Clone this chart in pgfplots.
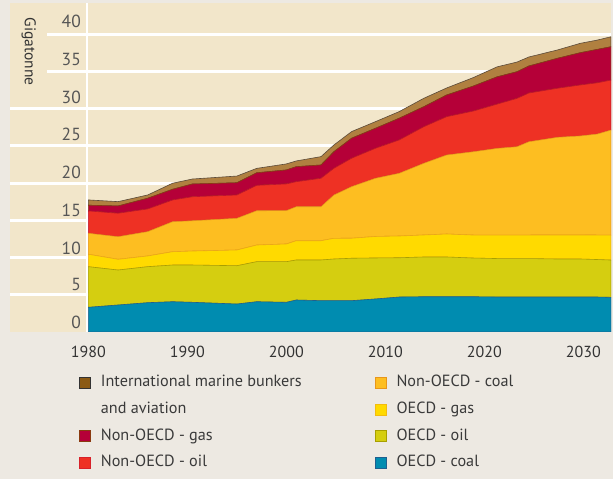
\documentclass[border=0pt]{standalone}
\usepackage{fontspec}
\setmainfont{PT Sans}
\usepackage{pgfplots}
\pgfplotsset{compat=1.18}
\usepackage{pgfplotstable}

\definecolor{outerbg}{HTML}{EDE9E2}
\definecolor{plotbg}{HTML}{F2E6CA}
\definecolor{oecdcoal}{HTML}{008CB0}
\definecolor{oecdcoalE}{HTML}{1F5F8F}
\definecolor{oecdoil}{HTML}{D5CE10}
\definecolor{oecdoilE}{HTML}{A8A000}
\definecolor{oecdgas}{HTML}{FFDA00}
\definecolor{oecdgasE}{HTML}{EBA818}
\definecolor{nocoal}{HTML}{FDBE21}
\definecolor{nocoalE}{HTML}{E8961A}
\definecolor{nooil}{HTML}{EE3124}
\definecolor{nooilE}{HTML}{C0102E}
\definecolor{nogas}{HTML}{B50038}
\definecolor{nogasE}{HTML}{8A3A10}
\definecolor{bunk}{HTML}{B08040}
\definecolor{bunkE}{HTML}{5A4A3A}
\definecolor{bunkL}{HTML}{8B5A14}
\definecolor{tickdark}{HTML}{333333}
\definecolor{tickgray}{HTML}{555555}
\definecolor{legtext}{HTML}{3A3A3A}

\pgfplotstableread{
year   coal  oil   gas   ncoal  noil  ngas  bunk
1980.0 3.32  5.46  1.67  2.82   3.00  0.77  0.71
1983.0 3.63  4.70  1.44  3.04   3.15  0.98  0.58
1986.0 3.94  4.84  1.44  3.27   3.05  1.44  0.44
1988.5 4.07  4.93  1.79  4.03   2.92  1.44  0.81
1990.5 3.99  5.01  1.88  4.07   3.23  1.71  0.67
1995.0 3.76  5.15  2.11  4.26   3.13  1.65  0.90
1997.0 4.07  5.38  2.24  4.61   3.41  1.69  0.59
2000.0 3.99  5.46  2.38  4.48   3.59  1.88  0.81
2001.0 4.30  5.38  2.59  4.57   3.36  2.02  0.77
2003.5 4.21  5.47  2.59  4.57   3.82  1.79  1.12
2004.8 4.21  5.60  2.78  5.82   3.59  2.23  0.90
2006.6 4.21  5.70  2.69  6.94   3.82  2.69  0.89
2009.0 4.44  5.51  2.89  7.82   4.03  2.69  0.89
2011.4 4.70  5.28  2.92  8.43   4.48  2.92  0.89
2013.9 4.74  5.34  2.96  9.64   4.92  2.69  1.13
2016.2 4.74  5.34  3.09  10.62  5.15  2.92  0.94
2018.9 4.74  5.20  3.09  11.20  5.47  3.36  1.14
2021.3 4.70  5.17  3.16  11.65  5.95  3.67  1.34
2023.3 4.70  5.17  3.16  11.87  6.50  3.58  1.30
2024.5 4.70  5.17  3.16  12.54  6.55  3.63  1.21
2027.4 4.70  5.11  3.23  13.13  6.59  4.03  1.12
2029.7 4.70  5.11  3.23  13.31  6.85  4.34  1.26
2031.4 4.70  5.04  3.29  13.57  6.89  4.49  1.25
2032.8 4.66  5.01  3.36  14.11  6.72  4.48  1.34
}\emis

\pgfplotsset{
  sw/.style 2 args={legend image code/.code={\draw[line width=1pt,draw=#1,fill=#2] (0pt,-5.5pt) rectangle (11pt,5.5pt); \path (19pt,0pt);}}
}

\begin{document}
\begin{tikzpicture}[x=1pt,y=1pt]
\fill[outerbg] (0,0) rectangle (613,479);
\begin{axis}[
  at={(10pt,147pt)}, anchor=south west,
  width=601pt, height=329pt, scale only axis,
  xmin=1972.08, xmax=2032.8, ymin=0, ymax=44.22,
  axis line style={draw=none},
  axis background/.style={fill=plotbg},
  xtick={1980,1990,2000,2010,2020,2030},
  xticklabels={1980,1990,2000,2010,2020,2030},
  xticklabel style={font=\fontsize{16}{18}\selectfont, text=tickdark, yshift=-11pt},
  ytick={1.34,6.32,11.29,16.4,21.5,26.5,31.6,36.6,41.7},
  yticklabels={0,5,10,15,20,25,30,35,40},
  yticklabel style={anchor=east, inner sep=0pt, xshift=71pt, font=\fontsize{17.5}{19}\selectfont, text=tickgray},
  major tick length=0pt,
  extra y ticks={5,10,15,20,25,30,35,40},
  extra y tick labels={},
  extra y tick style={grid=major, major grid style={white, line width=3pt}},
  ylabel={Gigatonne},
  ylabel style={rotate=180, at={(axis description cs:0,1)}, anchor=south west, fill=plotbg, inner xsep=0pt, inner ysep=0pt, minimum height=37pt, minimum width=97pt, font=\fontsize{15.5}{17}\selectfont, text=tickdark},
  stack plots=y,
  legend columns=2,
  legend style={at={(axis description cs:0.1098,-0.126)}, anchor=north west, draw=none, fill=none,
    font=\fontsize{16.2}{18}\selectfont, text=legtext, cells={anchor=west},
    nodes={text height=11pt, text depth=3.5pt, inner ysep=0pt},
    row sep=12.2pt,
    /tikz/every even column/.append style={column sep=71pt}},
]
\draw[white, line width=2pt] (axis cs:1979.86,0) -- (axis cs:1979.86,44.22);
\addplot[fill=oecdcoal, draw=oecdcoalE, line width=0.6pt, forget plot] table[x=year,y=coal]{\emis} \closedcycle;
\addplot[fill=oecdoil, draw=oecdoilE, line width=0.6pt, forget plot] table[x=year,y=oil]{\emis} \closedcycle;
\addplot[fill=oecdgas, draw=oecdgasE, line width=0.6pt, forget plot] table[x=year,y=gas]{\emis} \closedcycle;
\addplot[fill=nocoal, draw=nocoalE, line width=0.6pt, forget plot] table[x=year,y=ncoal]{\emis} \closedcycle;
\addplot[fill=nooil, draw=nooilE, line width=0.6pt, forget plot] table[x=year,y=noil]{\emis} \closedcycle;
\addplot[fill=nogas, draw=nogasE, line width=0.6pt, forget plot] table[x=year,y=ngas]{\emis} \closedcycle;
\addplot[fill=bunk, draw=bunkE, line width=0.6pt, forget plot] table[x=year,y=bunk]{\emis} \closedcycle;

\addlegendimage{sw={black!80}{bunkL}}
\addlegendentry{International marine bunkers}
\addlegendimage{sw={nocoalE}{nocoal}}
\addlegendentry{Non-OECD - coal}
\addlegendimage{empty legend}
\addlegendentry{and aviation}
\addlegendimage{sw={oecdgasE!60!oecdgas}{oecdgas}}
\addlegendentry{OECD - gas}
\addlegendimage{sw={nogasE}{nogas}}
\addlegendentry{Non-OECD - gas}
\addlegendimage{sw={oecdoilE}{oecdoil}}
\addlegendentry{OECD - oil}
\addlegendimage{sw={nooilE!50!nooil}{nooil}}
\addlegendentry{Non-OECD - oil}
\addlegendimage{sw={oecdcoalE}{oecdcoal}}
\addlegendentry{OECD - coal}
\end{axis}
\end{tikzpicture}
\end{document}
